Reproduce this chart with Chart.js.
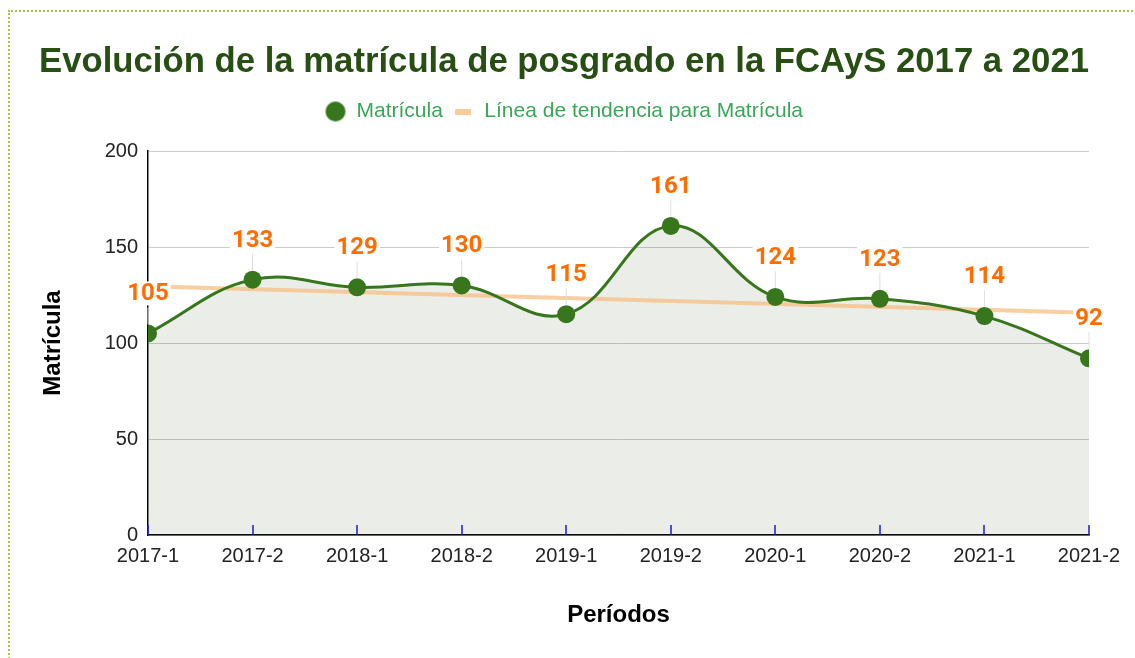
<!DOCTYPE html>
<html>
<head>
<meta charset="utf-8">
<script src="https://cdn.jsdelivr.net/npm/chart.js@4.4.0/dist/chart.umd.min.js"></script>
<style>
  html,body{margin:0;padding:0;background:#fff;}
  #wrap{position:relative;width:1135px;height:658px;overflow:hidden;}
  #frame{position:absolute;left:8px;top:10px;width:1200px;height:700px;border-left:2px dotted #a6c24f;border-top:2px dotted #a6c24f;box-sizing:border-box;}
  canvas{position:absolute;left:0;top:0;}
</style>
</head>
<body>
<div id="wrap">
  <div id="frame"></div>
  <canvas id="c" width="1135" height="658"></canvas>
</div>
<script>
const categories = ['2017-1','2017-2','2018-1','2018-2','2019-1','2019-2','2020-1','2020-2','2021-1','2021-2'];
const matricula = [105,133,129,130,115,161,124,123,114,92];
const trendStart = 129.5;
const trendEnd = 115.7;
const yTicks = [0,50,100,150,200];

function makeCircle(){
  const c = document.createElement('canvas'); c.width = 22; c.height = 22;
  const x = c.getContext('2d'); x.fillStyle = '#38761d'; x.beginPath(); x.arc(11,11,10,0,Math.PI*2); x.fill();
  return c;
}
function makeLine(){
  const c = document.createElement('canvas'); c.width = 16; c.height = 6;
  const x = c.getContext('2d'); x.fillStyle = '#f9cb9c'; x.fillRect(0,0,16,6);
  return c;
}
const circleImg = makeCircle();
const lineImg = makeLine();

const legendMargin = {
  id: 'legendMargin',
  beforeInit(chart){
    const fit = chart.legend.fit;
    chart.legend.fit = function(){ fit.bind(chart.legend)(); this.height += 19; };
  }
};

const extras = {
  id: 'extras',
  afterDraw(chart){
    const ctx = chart.ctx;
    const xs = chart.scales.x, area = chart.chartArea;
    ctx.save();
    ctx.strokeStyle = '#1a1ad6'; ctx.lineWidth = 1.5;
    xs.ticks.forEach((t,i)=>{
      const px = Math.round(xs.getPixelForTick(i));
      ctx.beginPath(); ctx.moveTo(px, area.bottom - 10); ctx.lineTo(px, area.bottom); ctx.stroke();
    });
    ctx.restore();
  },
  afterDatasetsDraw(chart){
    const ctx = chart.ctx;
    const meta = chart.getDatasetMeta(0);
    ctx.save();
    ctx.font = 'bold 24px Roboto';
    ctx.textAlign = 'center'; ctx.textBaseline = 'middle';
    meta.data.forEach((pt,i)=>{
      const txt = String(matricula[i]);
      const ty = pt.y - 40;
      ctx.strokeStyle = '#dddddd'; ctx.lineWidth = 1;
      ctx.beginPath(); ctx.moveTo(pt.x, ty + 14); ctx.lineTo(pt.x, pt.y - 9); ctx.stroke();
      const w = ctx.measureText(txt).width;
      ctx.fillStyle = '#ffffff';
      ctx.fillRect(pt.x - w/2 - 2, ty - 12, w + 4, 24);
      ctx.fillStyle = '#ff6d01';
      ctx.fillText(txt, pt.x, ty + 1);
    });
    ctx.restore();
  }
};

new Chart(document.getElementById('c'), {
  type: 'line',
  data: {
    labels: categories,
    datasets: [
      {
        label: 'Matrícula',
        data: matricula,
        borderColor: '#38761d',
        backgroundColor: 'rgba(70,100,50,0.11)',
        borderWidth: 3,
        tension: 0.4,
        fill: 'origin',
        pointRadius: 9,
        pointHoverRadius: 9,
        pointBackgroundColor: '#38761d',
        pointBorderWidth: 0,
        clip: 0
      },
      {
        label: 'Línea de tendencia para Matrícula',
        data: [{x: categories[0], y: trendStart}, {x: categories[categories.length-1], y: trendEnd}],
        borderColor: 'rgba(247,190,130,0.75)',
        borderWidth: 4,
        pointRadius: 0,
        fill: false,
        tension: 0
      }
    ]
  },
  options: {
    responsive: false,
    animation: false,
    events: [],
    layout: { padding: { top: 41, left: 39, right: 46, bottom: 28 } },
    plugins: {
      filler: { drawTime: 'beforeDatasetsDraw' },
      tooltip: { enabled: false },
      title: {
        display: true,
        text: 'Evolución de la matrícula de posgrado en la FCAyS 2017 a 2021',
        color: '#274e13',
        font: { family: 'Liberation Sans', size: 35, weight: 'bold' },
        padding: { top: 0, bottom: 8 }
      },
      legend: {
        display: true,
        position: 'top',
        labels: {
          color: '#3aa757',
          font: { family: 'Liberation Sans', size: 21 },
          usePointStyle: true,
          boxWidth: 21,
          boxHeight: 21,
          padding: 10,
          generateLabels(){
            return [
              { text: 'Matrícula', pointStyle: circleImg, fillStyle: '#38761d', strokeStyle: '#38761d', lineWidth: 0, fontColor: '#3aa757', datasetIndex: 0 },
              { text: 'Línea de tendencia para Matrícula', pointStyle: lineImg, fillStyle: '#f9cb9c', strokeStyle: '#f9cb9c', lineWidth: 0, fontColor: '#3aa757', datasetIndex: 1 }
            ];
          }
        }
      }
    },
    scales: {
      x: {
        type: 'category',
        offset: false,
        grid: { display: false, drawTicks: false },
        border: { display: true, color: '#000000', width: 1.5 },
        ticks: { color: '#222222', font: { family: 'Liberation Sans', size: 20 }, padding: 9, maxRotation: 0, autoSkip: false },
        title: { display: true, text: 'Períodos', color: '#000000', font: { family: 'Liberation Sans', size: 24, weight: 'bold' }, padding: 0 },
        afterFit(s){ s.height = 658 - 535 - 28; }
      },
      y: {
        min: 0, max: 200,
        afterBuildTicks(s){ s.ticks = yTicks.map(v=>({value:v})); },
        grid: { color: '#cccccc', lineWidth: 1, drawTicks: false },
        border: { display: true, color: '#000000', width: 1.5 },
        ticks: { color: '#222222', font: { family: 'Liberation Sans', size: 20 }, padding: 10 },
        title: { display: true, text: 'Matrícula', color: '#000000', font: { family: 'Liberation Sans', size: 24, weight: 'bold' }, padding: 0 },
        afterFit(s){ s.width = 148 - 39; }
      }
    }
  },
  plugins: [legendMargin, extras]
});
</script>
</body>
</html>
